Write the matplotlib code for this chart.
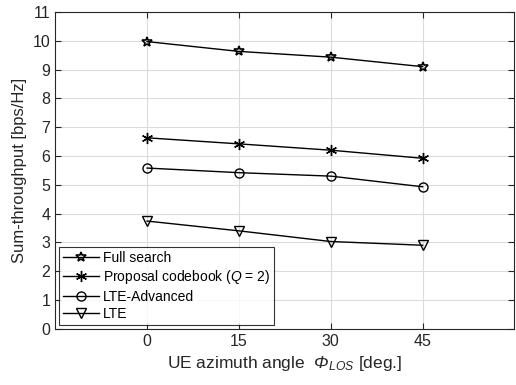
import numpy as np
import matplotlib
matplotlib.use("Agg")
import matplotlib.pyplot as plt

plt.rcParams['font.family'] = ['Liberation Sans', 'DejaVu Sans']
# every math run here is italic (Q, Phi, LOS), so map roman to italic too
plt.rcParams['mathtext.fontset'] = 'custom'
plt.rcParams['mathtext.rm'] = 'Liberation Sans:italic'
plt.rcParams['mathtext.it'] = 'Liberation Sans:italic'

angles = [0, 15, 30, 45]
full_search = [9.97, 9.63, 9.43, 9.10]
proposal = [6.63, 6.42, 6.20, 5.92]
lte_adv = [5.58, 5.42, 5.30, 4.93]
lte = [3.74, 3.40, 3.03, 2.90]
labels = ["Full search", r"Proposal codebook ($Q$ = 2)", "LTE-Advanced", "LTE"]

fig = plt.figure(figsize=(5.16, 3.85), dpi=100)
ax = fig.add_axes([0.107, 0.146, 0.89, 0.823])

ax.plot(angles, full_search, color='k', lw=1.0, marker='*', ms=7, mfc='none', mew=1.2, label=labels[0])
ax.plot(angles, proposal, color='k', lw=1.0, marker=(6, 2, 0), ms=8, mew=1.0, label=labels[1])
ax.plot(angles, lte_adv, color='k', lw=1.0, marker='o', ms=6.5, mfc='none', mew=1.0, label=labels[2])
ax.plot(angles, lte, color='k', lw=1.0, marker='v', ms=7, mfc='none', mew=1.0, label=labels[3])

ax.set_xlim(-15, 60)
ax.set_ylim(0, 11)
ax.set_xticks(angles)
ax.set_yticks(range(0, 12))
ax.grid(True, color='#dcdcdc', lw=0.8)
ax.set_axisbelow(True)
ax.tick_params(direction='in', top=True, right=True, labelsize=11.5, colors='#262626', length=4)
for s in ax.spines.values():
    s.set_color('#262626')
    s.set_linewidth(0.8)

ax.set_xlabel("UE azimuth angle  $\u03A6_{LOS}$ [deg.]", fontsize=12.5, color='#262626')
ax.set_ylabel("Sum-throughput [bps/Hz]", fontsize=12, color='#262626')

leg = ax.legend(loc='lower left', fontsize=10, frameon=True, fancybox=False,
                edgecolor='k', borderpad=0.25, labelspacing=0.25, handlelength=2.6,
                handletextpad=0.3, borderaxespad=0.3)
leg.get_frame().set_linewidth(0.8)

fig.savefig("out.png", dpi=100)
